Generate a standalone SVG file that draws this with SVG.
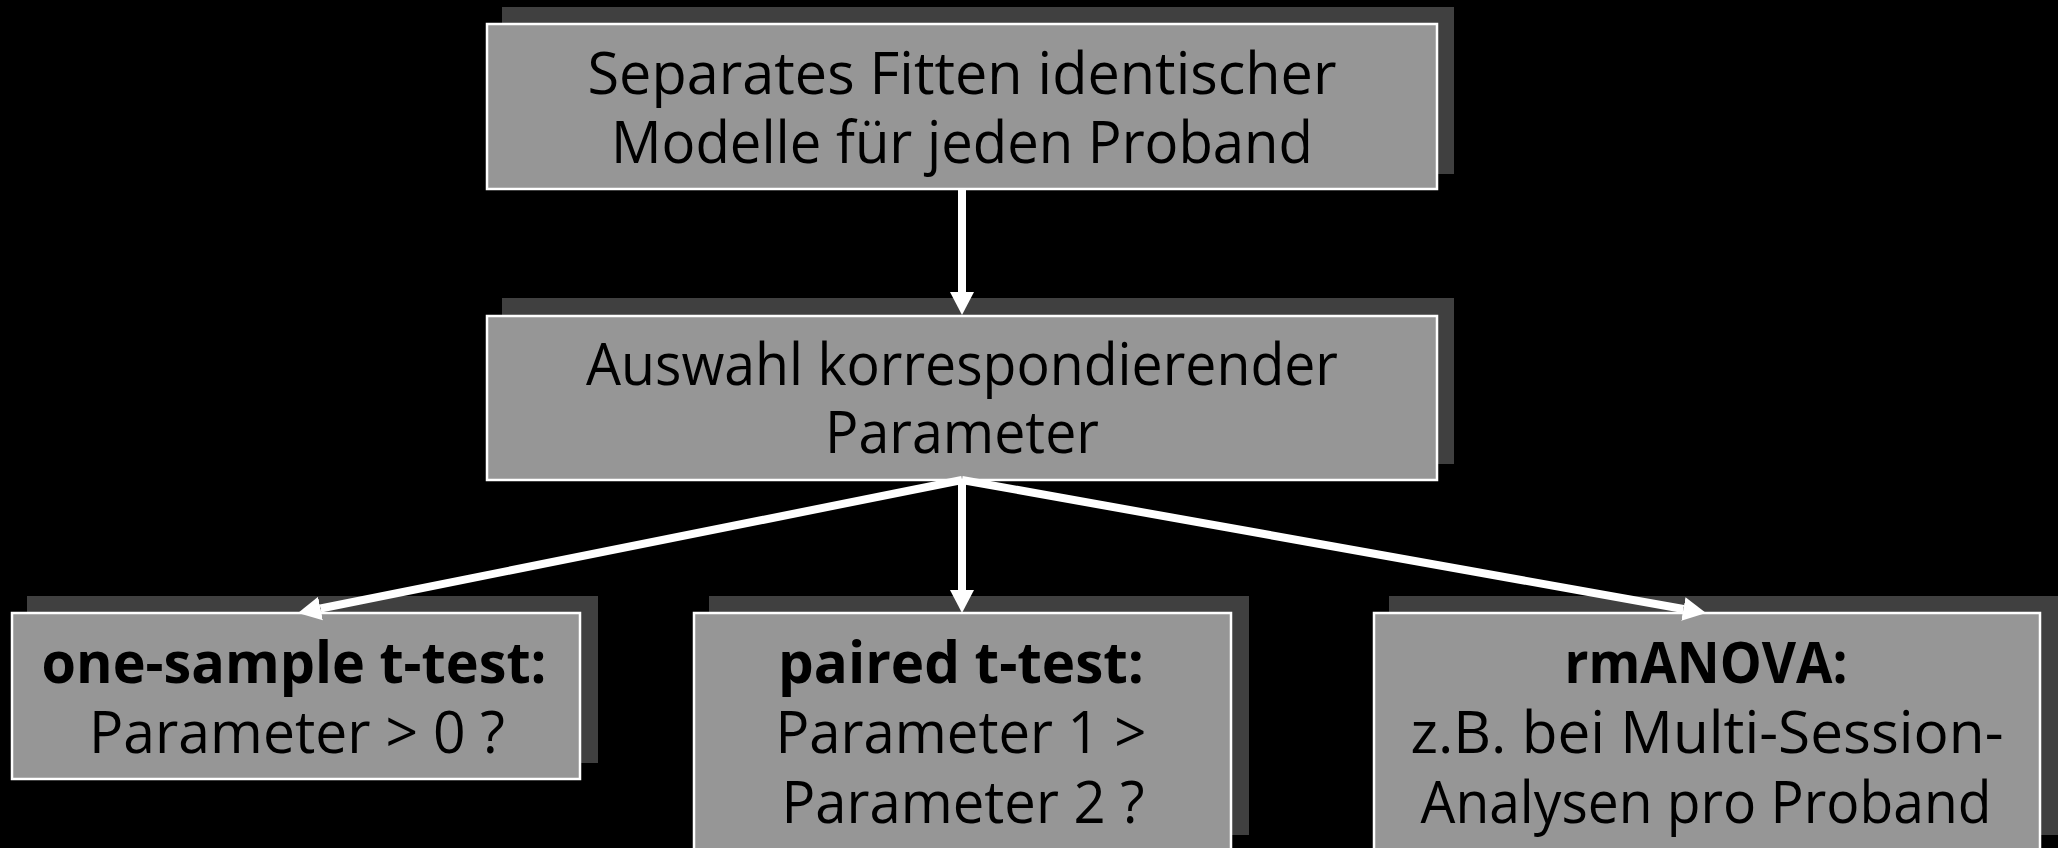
<svg xmlns="http://www.w3.org/2000/svg" width="2058" height="848" viewBox="0 0 2058 848">
<style>
.bg{fill:#000}
.shadow{fill:#404040}
.box{fill:#969696;stroke:#fff;stroke-width:2.5}
.t{font-family:"Open Sans","DejaVu Sans",sans-serif;font-size:58px;fill:#000;text-anchor:middle}
.b{font-weight:bold;font-size:56.5px}
.conn{stroke:#fff;stroke-width:8;fill:none}
</style>
<defs>
<marker id="ah" markerUnits="userSpaceOnUse" markerWidth="24" markerHeight="26" refX="0" refY="13" orient="auto" viewBox="0 0 24 26">
<path d="M0,1 L23,13 L0,25 z" fill="#fff"/>
</marker>
</defs>
<rect class="bg" x="0" y="0" width="2058" height="848"/>
<g id="node-fit">
<rect class="shadow" x="502" y="7" width="952" height="167"/>
<rect class="box" x="487" y="24" width="950" height="165"/>
<text class="t" x="962" y="94" textLength="749" lengthAdjust="spacingAndGlyphs">Separates Fitten identischer</text>
<text class="t" x="962" y="163" textLength="702" lengthAdjust="spacingAndGlyphs">Modelle für jeden Proband</text>
</g>
<g id="node-select">
<rect class="shadow" x="502" y="298" width="952" height="166"/>
<rect class="box" x="487" y="316" width="950" height="164"/>
<text class="t" x="962" y="385" textLength="752" lengthAdjust="spacingAndGlyphs">Auswahl korrespondierender</text>
<text class="t" x="962" y="453" textLength="274" lengthAdjust="spacingAndGlyphs">Parameter</text>
</g>
<g id="node-onesample">
<rect class="shadow" x="27" y="596" width="571" height="167"/>
<rect class="box" x="12" y="613" width="568" height="166"/>
<text class="t b" x="294" y="683" textLength="505" lengthAdjust="spacingAndGlyphs">one-sample t-test:</text>
<text class="t" x="297" y="753" textLength="416" lengthAdjust="spacingAndGlyphs">Parameter &gt; 0 ?</text>
</g>
<g id="node-paired">
<rect class="shadow" x="709" y="596" width="540" height="239"/>
<rect class="box" x="694" y="613" width="537" height="260"/>
<text class="t b" x="961" y="683" textLength="366" lengthAdjust="spacingAndGlyphs">paired t-test:</text>
<text class="t" x="961" y="753" textLength="371" lengthAdjust="spacingAndGlyphs">Parameter 1 &gt;</text>
<text class="t" x="963" y="823" textLength="363" lengthAdjust="spacingAndGlyphs">Parameter 2 ?</text>
</g>
<g id="node-rmanova">
<rect class="shadow" x="1389" y="596" width="669" height="239"/>
<rect class="box" x="1374" y="613" width="666" height="260"/>
<text class="t b" x="1706" y="683" textLength="283" lengthAdjust="spacingAndGlyphs">rmANOVA:</text>
<text class="t" x="1707" y="753" textLength="593" lengthAdjust="spacingAndGlyphs">z.B. bei Multi-Session-</text>
<text class="t" x="1706" y="823" textLength="571" lengthAdjust="spacingAndGlyphs">Analysen pro Proband</text>
</g>
<g id="connectors">
<line class="conn" x1="962" y1="189" x2="962" y2="292" marker-end="url(#ah)"/>
<line class="conn" x1="962" y1="480" x2="320.5" y2="608.5" marker-end="url(#ah)"/>
<line class="conn" x1="962" y1="480" x2="962" y2="590" marker-end="url(#ah)"/>
<line class="conn" x1="962" y1="480" x2="1683.4" y2="609" marker-end="url(#ah)"/>
</g>
</svg>
